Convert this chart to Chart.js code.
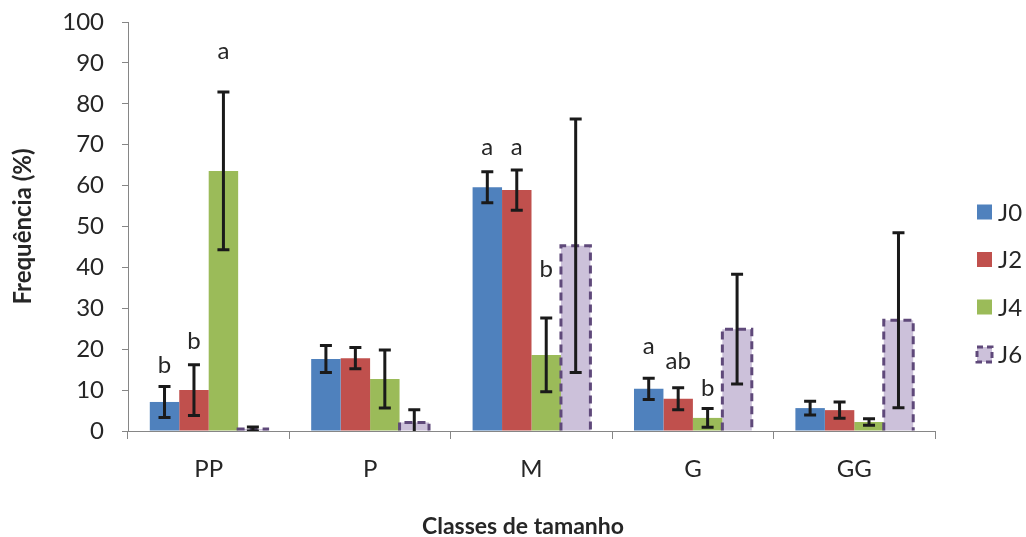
<!DOCTYPE html>
<html>
<head>
<meta charset="utf-8">
<script src="https://cdn.jsdelivr.net/npm/chart.js@4.4.1/dist/chart.umd.min.js"></script>
<style>
  html, body { margin: 0; padding: 0; background: #ffffff; }
  #wrap { width: 1026px; height: 537px; position: relative; }
</style>
</head>
<body>
<div id="wrap"><canvas id="c" width="1026" height="537"></canvas></div>
<script>
// Size classes and frequency (%) per sampling day
const categories = ['PP', 'P', 'M', 'G', 'GG'];
const seriesNames = ['J0', 'J2', 'J4', 'J6'];

const J0 = [7.1, 17.6, 59.6, 10.3, 5.6];
const J2 = [10.0, 17.8, 58.9, 7.9, 5.1];
const J4 = [63.6, 12.7, 18.6, 3.2, 2.2];
const J6 = [0.5, 2.1, 45.3, 24.9, 27.1];

// Standard deviations (error bars)
const J0sd = [3.8, 3.3, 3.8, 2.6, 1.7];
const J2sd = [6.2, 2.6, 4.9, 2.7, 2.0];
const J4sd = [19.3, 7.1, 9.0, 2.3, 0.8];
const J6sd = [0.5, 3.1, 31.0, 13.4, 21.4];

// Significance letters
const J0letters = ['b', '', 'a', 'a', ''];
const J2letters = ['b', '', 'a', 'ab', ''];
const J4letters = ['a', '', 'b', 'b', ''];
const J6letters = ['', '', '', '', ''];

const yTicks = [0, 10, 20, 30, 40, 50, 60, 70, 80, 90, 100];

const FONT = "Lato, 'Open Sans', sans-serif";
const TEXT = '#262626';
const fills = ['#4f81bd', '#c0504d', '#9bbb59', '#ccc1da'];
const dashedBorder = '#5f497a';

const values = [J0, J2, J4, J6];
const sds = [J0sd, J2sd, J4sd, J6sd];
const letters = [J0letters, J2letters, J4letters, J6letters];
// pixel lift of each letter above its error bar
const letterLift = [[13, 0, 17, 24, 0], [16, 0, 15, 19, 0], [33, 0, 41, 13, 0], [0, 0, 0, 0, 0]];

const decorPlugin = {
  id: 'decor',
  afterDatasetsDraw(chart) {
    const ctx = chart.ctx;
    const y = chart.scales.y;
    const area = chart.chartArea;

    // dashed outline for J6 bars
    const m6 = chart.getDatasetMeta(3);
    ctx.save();
    ctx.strokeStyle = dashedBorder;
    ctx.lineWidth = 3;
    ctx.setLineDash([8, 5]);
    m6.data.forEach(bar => {
      const w = bar.width;
      const x0 = bar.x - w / 2, x1 = bar.x + w / 2;
      ctx.beginPath();
      ctx.moveTo(x0, bar.base);
      ctx.lineTo(x0, bar.y);
      ctx.lineTo(x1, bar.y);
      ctx.lineTo(x1, bar.base);
      ctx.stroke();
    });
    ctx.restore();

    // error bars
    ctx.save();
    ctx.beginPath();
    ctx.rect(area.left, area.top - 40, area.right - area.left, area.bottom - area.top + 40);
    ctx.clip();
    ctx.strokeStyle = '#1a1a1a';
    ctx.lineWidth = 3;
    values.forEach((vals, di) => {
      const meta = chart.getDatasetMeta(di);
      meta.data.forEach((bar, i) => {
        const hi = y.getPixelForValue(vals[i] + sds[di][i]);
        const lo = y.getPixelForValue(vals[i] - sds[di][i]);
        const x = bar.x;
        const cap = 6;
        ctx.beginPath();
        ctx.moveTo(x, hi); ctx.lineTo(x, lo);
        ctx.moveTo(x - cap, hi); ctx.lineTo(x + cap, hi);
        ctx.moveTo(x - cap, lo); ctx.lineTo(x + cap, lo);
        ctx.stroke();
      });
    });
    ctx.restore();

    // letters
    ctx.save();
    ctx.fillStyle = TEXT;
    ctx.font = "24px " + FONT;
    ctx.textAlign = 'center';
    ctx.textBaseline = 'alphabetic';
    letters.forEach((ls, di) => {
      const meta = chart.getDatasetMeta(di);
      ls.forEach((t, i) => {
        if (!t) return;
        const hi = y.getPixelForValue(values[di][i] + sds[di][i]);
        ctx.fillText(t, meta.data[i].x, hi - letterLift[di][i]);
      });
    });
    ctx.restore();

    // legend
    ctx.save();
    ctx.font = "24px " + FONT;
    ctx.textBaseline = 'alphabetic';
    ctx.textAlign = 'left';
    seriesNames.forEach((name, di) => {
      const cy = 212 + di * 47.5;
      const bx = 977, bs = 15;
      ctx.fillStyle = fills[di];
      ctx.fillRect(bx, cy - bs / 2, bs, bs);
      if (di === 3) {
        ctx.strokeStyle = dashedBorder;
        ctx.lineWidth = 3;
        ctx.setLineDash([6, 4]);
        ctx.strokeRect(bx, cy - bs / 2, bs, bs);
        ctx.setLineDash([]);
      }
      ctx.fillStyle = TEXT;
      ctx.fillText(name, 998, cy + 8.5);
    });
    ctx.restore();

    // x axis title
    ctx.save();
    ctx.font = "bold 23px " + FONT;
    ctx.fillStyle = TEXT;
    ctx.textAlign = 'center';
    ctx.textBaseline = 'alphabetic';
    ctx.fillText('Classes de tamanho', 523, 534);
    ctx.restore();
  }
};

new Chart(document.getElementById('c'), {
  type: 'bar',
  data: {
    labels: categories,
    datasets: seriesNames.map((name, di) => ({
      label: name,
      data: values[di],
      backgroundColor: fills[di],
      borderWidth: 0,
      categoryPercentage: 0.73,
      barPercentage: 1.0
    }))
  },
  options: {
    responsive: false,
    animation: false,
    devicePixelRatio: 1,
    layout: { padding: { left: 0, right: 91, top: 22, bottom: 0 } },
    plugins: { legend: { display: false }, tooltip: { enabled: false } },
    scales: {
      x: {
        grid: { display: true, drawOnChartArea: false, offset: true, tickLength: 8, color: '#868686' },
        border: { color: '#868686', width: 1 },
        ticks: { color: TEXT, font: { family: FONT, size: 24 }, padding: 16 },
        afterFit(s) { s.height = 106; s.paddingLeft = 0; s.paddingRight = 0; }
      },
      y: {
        min: 0, max: 100,
        afterBuildTicks(s) { s.ticks = yTicks.map(v => ({ value: v })); },
        grid: { display: true, drawOnChartArea: false, tickLength: 6, color: '#868686' },
        border: { color: '#868686', width: 1 },
        ticks: { color: TEXT, font: { family: FONT, size: 24 }, padding: 18 },
        title: { display: true, text: 'Frequência (%)', color: TEXT,
                 font: { family: FONT, size: 24, weight: 'bold' }, padding: { top: 9, bottom: 0 } },
        afterFit(s) { s.width = 128; s.paddingTop = 0; s.paddingBottom = 0; }
      }
    }
  },
  plugins: [decorPlugin]
});
</script>
</body>
</html>
